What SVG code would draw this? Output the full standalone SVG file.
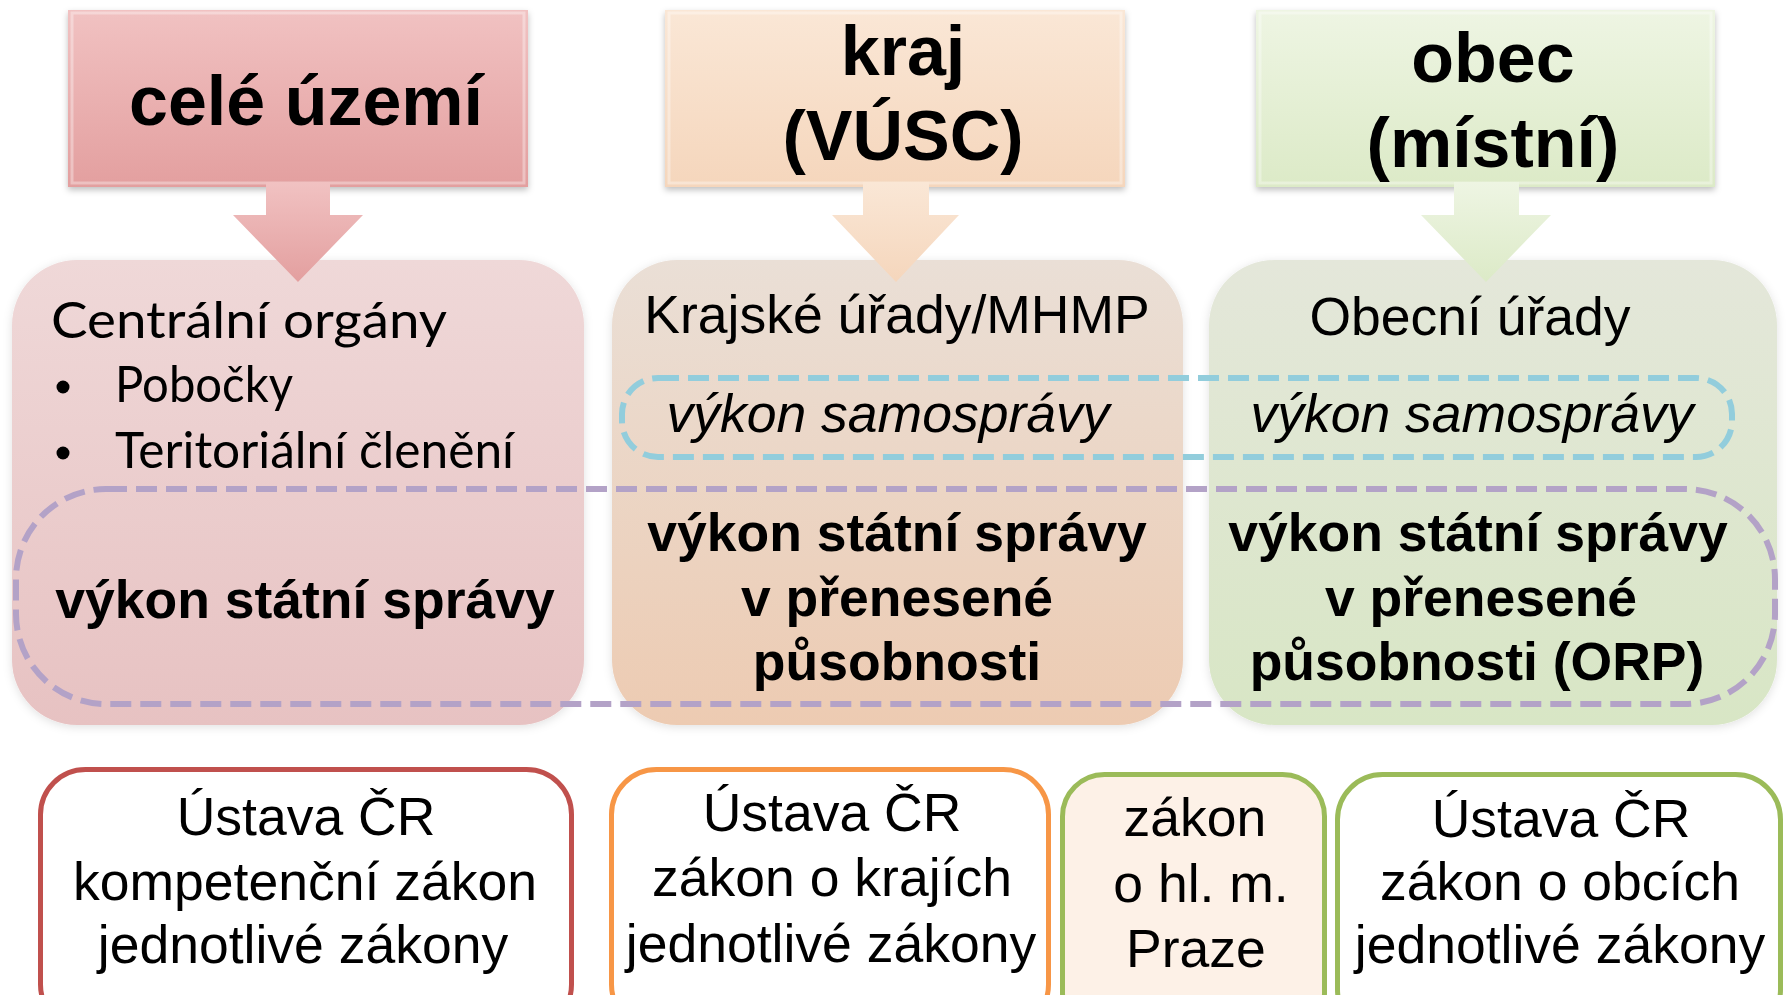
<svg xmlns="http://www.w3.org/2000/svg" width="1789" height="995" viewBox="0 0 1789 995">
<style>
.t{font-family:"Liberation Sans",Arial,sans-serif;fill:#000}
.b{font-weight:bold}
.i{font-style:italic}
.c{font-family:Lato,"Liberation Sans",sans-serif;fill:#000}
.m{text-anchor:middle}
.law{fill:#fff;stroke-width:5}
.dash{fill:none;stroke-width:6;stroke-dasharray:21 9}
</style>
<defs>
<linearGradient id="gR" x1="0" y1="0" x2="0" y2="1"><stop offset="0" stop-color="#F1C2C2"/><stop offset="1" stop-color="#E39F9F"/></linearGradient>
<linearGradient id="gO" x1="0" y1="0" x2="0" y2="1"><stop offset="0" stop-color="#FAE7D6"/><stop offset="1" stop-color="#F5D6BC"/></linearGradient>
<linearGradient id="gG" x1="0" y1="0" x2="0" y2="1"><stop offset="0" stop-color="#EEF5E3"/><stop offset="1" stop-color="#DCEAC7"/></linearGradient>
<linearGradient id="pR" x1="0" y1="0" x2="0" y2="1"><stop offset="0" stop-color="#EFD8D8"/><stop offset="1" stop-color="#E7C2C2"/></linearGradient>
<linearGradient id="pO" x1="0" y1="0" x2="0" y2="1"><stop offset="0" stop-color="#EADFD6"/><stop offset="1" stop-color="#EDCBB2"/></linearGradient>
<linearGradient id="pG" x1="0" y1="0" x2="0" y2="1"><stop offset="0" stop-color="#E4E7DA"/><stop offset="1" stop-color="#D8E6C5"/></linearGradient>
<filter id="sh" x="-10%" y="-10%" width="120%" height="130%"><feDropShadow dx="0" dy="3" stdDeviation="3" flood-color="#000" flood-opacity="0.25"/></filter>
<filter id="glow" x="-10%" y="-10%" width="120%" height="120%"><feDropShadow dx="0" dy="2" stdDeviation="5" flood-color="#000" flood-opacity="0.12"/></filter>
</defs>

<g id="panel-stat">
<rect x="12" y="260" width="572" height="465" rx="65" fill="url(#pR)" filter="url(#glow)"/>
<text class="c" x="51" y="338" font-size="51" textLength="396" lengthAdjust="spacingAndGlyphs">Centrální orgány</text>
<circle cx="63" cy="387" r="6.5"/>
<text class="c" x="115" y="402" font-size="51" textLength="178" lengthAdjust="spacingAndGlyphs">Pobočky</text>
<circle cx="63" cy="453" r="6.5"/>
<text class="c" x="115" y="468" font-size="51" textLength="399" lengthAdjust="spacingAndGlyphs">Teritoriální členění</text>
<text class="t b m" x="305" y="618" font-size="53.5">výkon státní správy</text>
</g>

<g id="panel-kraj">
<rect x="612" y="260" width="571" height="465" rx="65" fill="url(#pO)" filter="url(#glow)"/>
<text class="t m" x="897" y="333" font-size="53.5">Krajské úřady/MHMP</text>
<text class="t i m" x="888" y="432" font-size="53.5">výkon samosprávy</text>
<text class="t b m" x="897" y="551" font-size="53.5">výkon státní správy</text>
<text class="t b m" x="897" y="616" font-size="53.5">v přenesené</text>
<text class="t b m" x="897" y="680" font-size="53.5">působnosti</text>
</g>

<g id="panel-obec">
<rect x="1209" y="260" width="568" height="465" rx="65" fill="url(#pG)" filter="url(#glow)"/>
<text class="t m" x="1470" y="335" font-size="53.5">Obecní úřady</text>
<text class="t i m" x="1472" y="432" font-size="53.5">výkon samosprávy</text>
<text class="t b m" x="1478" y="551" font-size="53.5">výkon státní správy</text>
<text class="t b m" x="1481" y="616" font-size="53.5">v přenesené</text>
<text class="t b m" x="1477" y="680" font-size="53.5">působnosti (ORP)</text>
</g>

<g id="groups">
<rect id="dash-samosprava" class="dash" x="622" y="378" width="1110" height="79" rx="36" stroke="#92CDDC"/>
<rect id="dash-statni" class="dash" x="16" y="489" width="1759" height="215" rx="90" stroke="#B3A2C7"/>
</g>

<g id="top-cele">
<rect x="68" y="10" width="460" height="177" fill="url(#gR)" filter="url(#sh)"/>
<rect x="72" y="13" width="452" height="170" fill="none" stroke="#fff" stroke-opacity="0.35" stroke-width="3"/>
<text class="t b m" x="306" y="125" font-size="70">celé území</text>
</g>

<g id="top-kraj">
<rect x="665" y="10" width="460" height="177" fill="url(#gO)" filter="url(#sh)"/>
<rect x="669" y="13" width="452" height="170" fill="none" stroke="#fff" stroke-opacity="0.35" stroke-width="3"/>
<text class="t b m" x="903" y="75" font-size="70">kraj</text>
<text class="t b m" x="903" y="160" font-size="70">(VÚSC)</text>
</g>

<g id="top-obec">
<rect x="1256" y="10" width="459" height="177" fill="url(#gG)" filter="url(#sh)"/>
<rect x="1260" y="13" width="451" height="170" fill="none" stroke="#fff" stroke-opacity="0.35" stroke-width="3"/>
<text class="t b m" x="1493" y="82" font-size="70">obec</text>
<text class="t b m" x="1493" y="167" font-size="70">(místní)</text>
</g>

<g id="connectors">
<polygon points="266,182 330,182 330,215 363,215 298,282 233,215 266,215" fill="url(#gR)"/>
<polygon points="863,182 929,182 929,215 959,215 896,282 832,215 863,215" fill="url(#gO)"/>
<polygon points="1454,182 1519,182 1519,215 1551,215 1486,282 1421,215 1454,215" fill="url(#gG)"/>
</g>

<g id="law-cele">
<rect class="law" x="40.5" y="769.5" width="531" height="260" rx="45" stroke="#C0504D"/>
<text class="t m" x="306" y="835" font-size="53.5">Ústava ČR</text>
<text class="t m" x="305" y="900" font-size="53.5">kompetenční zákon</text>
<text class="t m" x="303" y="963" font-size="53.5">jednotlivé zákony</text>
</g>

<g id="law-kraj">
<rect class="law" x="611.5" y="769.5" width="437" height="260" rx="45" stroke="#F79646"/>
<text class="t m" x="832" y="831" font-size="53.5">Ústava ČR</text>
<text class="t m" x="832" y="896" font-size="53.5">zákon o krajích</text>
<text class="t m" x="831" y="962" font-size="53.5">jednotlivé zákony</text>
</g>

<g id="law-praha">
<rect class="law" x="1062.5" y="774.5" width="262" height="260" rx="42" stroke="#9BBB59" style="fill:#FDF1E7"/>
<text class="t m" x="1195" y="836" font-size="53.5">zákon</text>
<text class="t m" x="1201" y="902" font-size="53.5">o hl. m.</text>
<text class="t m" x="1196" y="967" font-size="53.5">Praze</text>
</g>

<g id="law-obec">
<rect class="law" x="1337.5" y="774.5" width="443" height="260" rx="45" stroke="#9BBB59"/>
<text class="t m" x="1561" y="837" font-size="53.5">Ústava ČR</text>
<text class="t m" x="1560" y="900" font-size="53.5">zákon o obcích</text>
<text class="t m" x="1560" y="963" font-size="53.5">jednotlivé zákony</text>
</g>
</svg>
